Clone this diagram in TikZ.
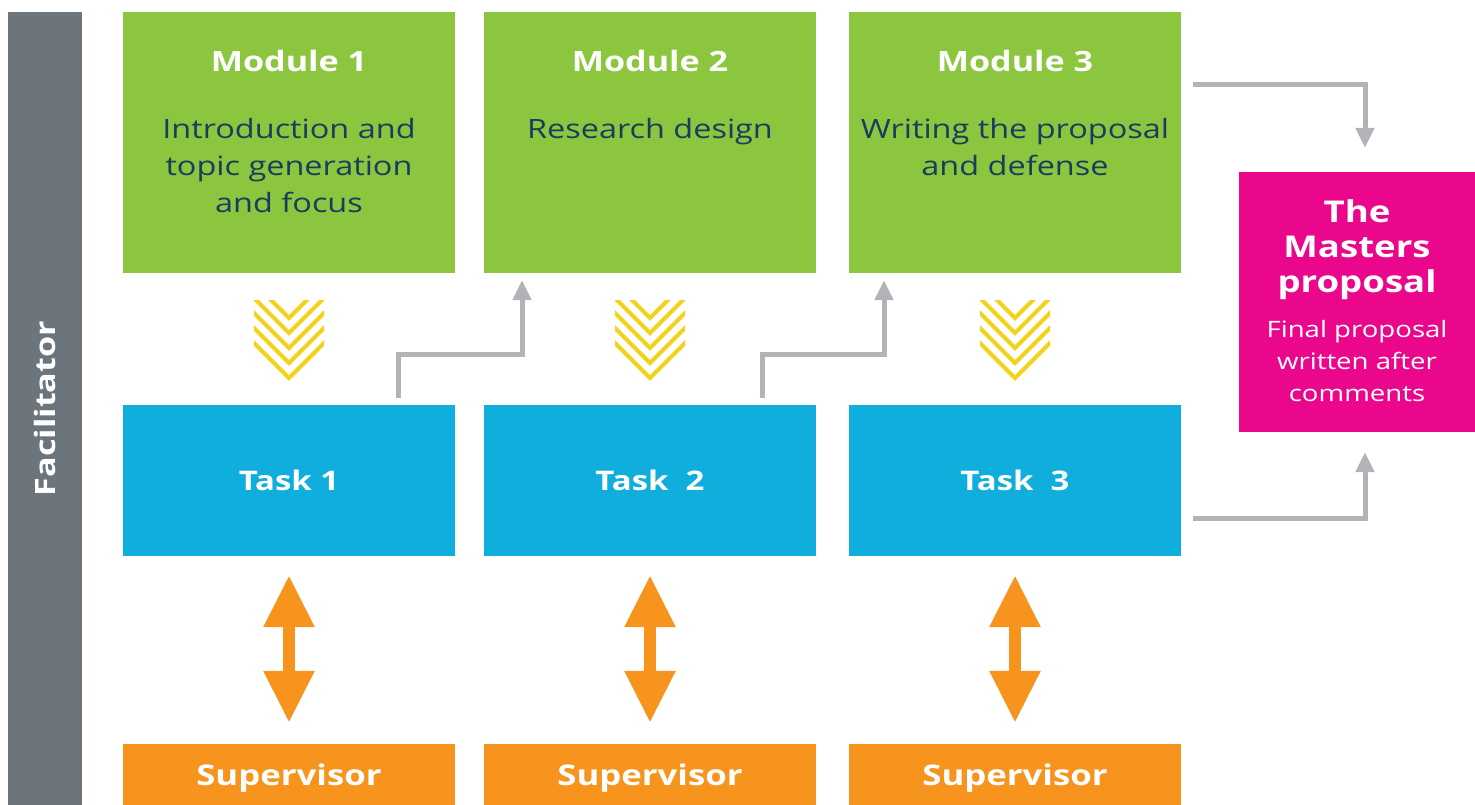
\documentclass[tikz,border=0pt]{standalone}
\usepackage{fontspec}
\setmainfont{Open Sans}[FakeStretch=1.22]
\usetikzlibrary{arrows.meta}
\definecolor{modgreen}{HTML}{8CC63F}
\definecolor{taskblue}{HTML}{10AEDD}
\definecolor{suporange}{HTML}{F7941E}
\definecolor{propink}{HTML}{EB078C}
\definecolor{bargrey}{HTML}{6C757B}
\definecolor{flowgrey}{HTML}{B1B3B6}
\definecolor{chevyellow}{HTML}{F3D31A}
\definecolor{bodynavy}{HTML}{1B3C5E}

\begin{document}
\begin{tikzpicture}[x=1pt, y=-1pt,
    box/.style={inner sep=0pt, minimum width=332pt},
    module/.style={box, fill=modgreen, minimum height=261pt},
    task/.style={box, fill=taskblue, minimum height=151pt, text=white,
        font=\bfseries\fontsize{27}{30}\selectfont},
    supervisor/.style={box, fill=suporange, minimum height=61pt, text=white,
        text depth=0pt, font=\bfseries\fontsize{28.5}{30}\selectfont},
    modtitle/.style={text=white, anchor=base, inner sep=0pt,
        font=\bfseries\fontsize{28}{30}\selectfont},
    modbody/.style={text=bodynavy, align=center, anchor=north, inner sep=0pt,
        font=\fontsize{26.6}{37}\selectfont},
    flow/.style={draw=flowgrey, line width=5pt, -{Triangle[length=20pt,width=18pt]}},
    duo/.style={draw=suporange, line width=12pt,
        {Triangle[length=52pt,width=48pt]}-{Triangle[length=52pt,width=48pt]}},
    chevron/.style={draw=chevyellow, line width=4pt}]
    \useasboundingbox (0,0) rectangle (1475,805);

    \node[fill=bargrey, minimum width=793pt, minimum height=74pt, inner sep=0pt,
        rotate=90, text=white, font=\bfseries\fontsize{28}{30}\selectfont]
        (fac) at (45,408.5) {Facilitator};

    \node[module] (m1) at (289,142.5) {};
    \node[module] (m2) at (650,142.5) {};
    \node[module] (m3) at (1015,142.5) {};
    \node[modtitle] (m1h) at (289,72) {Module 1};
    \node[modtitle] (m2h) at (650,72) {Module 2};
    \node[modtitle] (m3h) at (1015,72) {Module 3};
    \node[modbody] (m1b) at (289,118) {Introduction and\\topic generation\\and focus};
    \node[modbody] (m2b) at (650,118) {Research design};
    \node[modbody] (m3b) at (1015,118) {Writing the proposal\\and defense};

    \node[task] (t1) at (289,480.5) {Task 1};
    \node[task] (t2) at (650,480.5) {Task\ \ 2};
    \node[task] (t3) at (1015,480.5) {Task\ \ 3};

    \node[supervisor] (s1) at (289,774.5) {Supervisor};
    \node[supervisor] (s2) at (650,774.5) {Supervisor};
    \node[supervisor] (s3) at (1015,774.5) {Supervisor};

    \node[fill=propink, minimum width=236pt, minimum height=260pt, inner sep=0pt] (mp) at (1357,302) {};
    \node[text=white, align=center, anchor=north, inner sep=0pt,
        font=\bfseries\fontsize{30}{35}\selectfont] (mph) at (1357,200) {The\\Masters\\proposal};
    \node[text=white, align=center, anchor=north, inner sep=0pt,
        font=\fontsize{22.6}{32}\selectfont] (mpb) at (1357,320) {Final proposal\\written after\\comments};

    \foreach \cx in {289,650,1015} {
        \begin{scope}
            \clip (\cx-35,300) rectangle (\cx+35,400);
            \foreach \v in {318,333,...,378}
                \draw[chevron] (\cx-70,\v-70) -- (\cx,\v) -- (\cx+70,\v-70);
        \end{scope}
    }

    \draw[duo, shorten <=19pt, shorten >=21pt] (t1) -- (s1);
    \draw[duo, shorten <=19pt, shorten >=21pt] (t2) -- (s2);
    \draw[duo, shorten <=19pt, shorten >=21pt] (t3) -- (s3);

    \draw[flow, shorten <=7pt, shorten >=7pt] ([xshift=109pt]t1.north) -- ++(0,-50) -| ([xshift=-128pt]m2.south);
    \draw[flow, shorten <=7pt, shorten >=7pt] ([xshift=112pt]t2.north) -- ++(0,-50) -| ([xshift=-131pt]m3.south);
    \draw[flow, shorten <=12pt, shorten >=24pt] ([yshift=57.5pt]m3.east) -| ([xshift=8pt]mp.north);
    \draw[flow, shorten <=12pt, shorten >=20pt] ([yshift=-37.5pt]t3.east) -| ([xshift=8pt]mp.south);
\end{tikzpicture}
\end{document}
